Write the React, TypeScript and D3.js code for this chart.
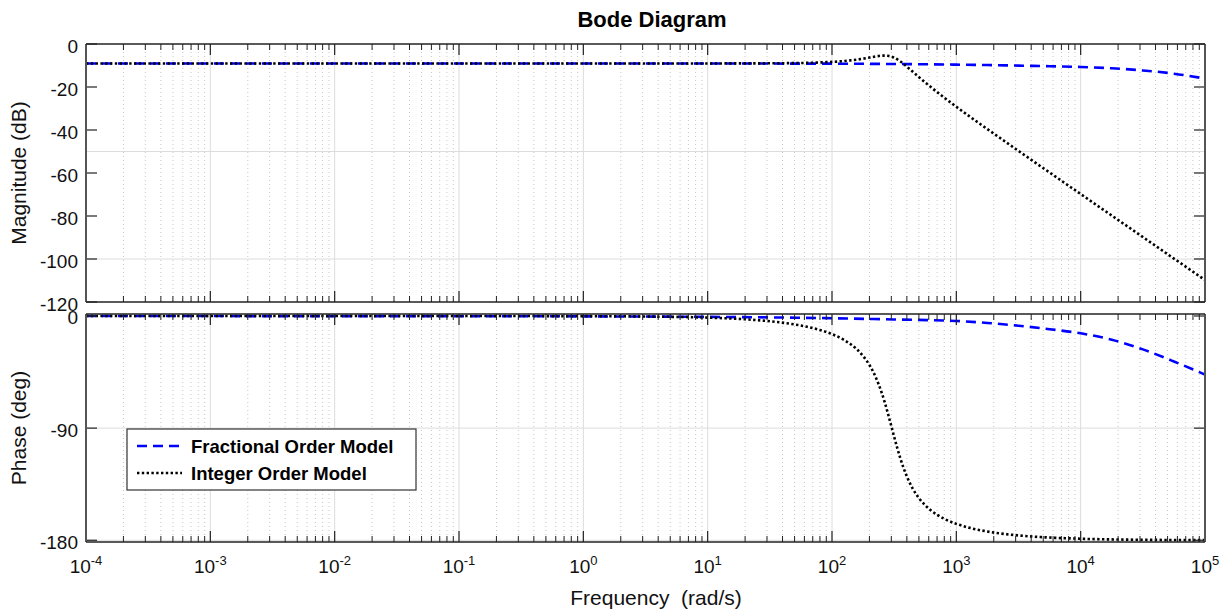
import React from "react";
import * as d3 from "d3";

// ---------- data ----------
const intFreq = [1e-4, 1e-3, 1e-2, 0.1, 1, 3.16, 10, 20, 31.6, 50.1, 63.1, 79.4, 100, 125.9, 141.3, 158.5, 177.8, 199.5, 223.9, 251.2, 266.1, 281.8, 298.5, 316.2, 354.8, 398.1, 446.7, 501.2, 562.3, 631, 794.3, 1000, 1259, 1585, 3162, 5012, 10000, 31623, 100000];
const intMag = [-9.05, -9.05, -9.05, -9.05, -9.05, -9.05, -9.04, -9.02, -8.98, -8.87, -8.77, -8.6, -8.33, -7.91, -7.62, -7.26, -6.82, -6.32, -5.8, -5.43, -5.39, -5.5, -5.83, -6.39, -8.14, -10.43, -12.93, -15.44, -17.9, -20.28, -24.83, -29.19, -33.42, -37.55, -49.73, -57.77, -69.79, -89.79, -109.79];
const intPhase = [0, 0, 0, -0.01, -0.13, -0.42, -1.32, -2.65, -4.23, -6.79, -8.67, -11.15, -14.54, -19.37, -22.64, -26.76, -32.08, -39.16, -48.75, -61.7, -69.6, -78.31, -87.6, -96.98, -114.38, -128.31, -138.67, -146.3, -152.01, -156.4, -162.65, -166.86, -169.86, -172.09, -176.13, -177.57, -178.78, -179.62, -179.88];

const fracFreq = [1e-4, 1e-3, 1e-2, 0.1, 1, 10, 100, 316, 1000, 1778, 3162, 5623, 10000, 17783, 31623, 56234, 100000];
const fracMag = [-9.05, -9.05, -9.05, -9.05, -9.06, -9.08, -9.15, -9.3, -9.6, -9.8, -10.05, -10.35, -10.7, -11.3, -12.3, -13.8, -16.1];
const fracPhase = [-0.05, -0.06, -0.1, -0.15, -0.3, -0.7, -1.8, -2.8, -4.0, -5.6, -7.8, -10.6, -13.9, -19.0, -26.8, -36.5, -47.0];

const decadeExps = [-4, -3, -2, -1, 0, 1, 2, 3, 4, 5];
const magTicks = [0, -20, -40, -60, -80, -100, -120];
const magGrid = [-50, -100];
const phaseTicks = [0, -90, -180];
const phaseGrid = [-90, -180];
const legendLabels = ["Fractional Order Model", "Integer Order Model"];

const W = 1224;
const H = 613;
const L = 86;
const R = 1205;
const magTop = 44;
const magBot = 302;
const phTop = 314;
const phBot = 542;
const FONT = "Liberation Sans, Arial, Helvetica, sans-serif";

export default function App() {
  const x = d3.scaleLog().domain([1e-4, 1e5]).range([L, R]);
  const yMag = d3.scaleLinear().domain([-120, 0]).range([magBot, magTop]);
  const yPh = d3.scaleLinear().domain([-181.4, 1.6]).range([phBot, phTop]);

  const minor: number[] = [];
  for (let e = -4; e < 5; e++) for (let k = 2; k <= 9; k++) minor.push(k * Math.pow(10, e));
  const majors = decadeExps.map((e) => Math.pow(10, e));

  const mkLine = (ys: d3.ScaleLinear<number, number>) =>
    d3
      .line<[number, number]>()
      .x((d) => x(d[0]))
      .y((d) => ys(d[1]))
      .curve(d3.curveMonotoneX);

  const zip = (a: number[], b: number[]) => a.map((v, i) => [v, b[i]] as [number, number]);

  const panel = (
    top: number,
    bot: number,
    ys: d3.ScaleLinear<number, number>,
    ticks: number[],
    grid: number[],
    clipId: string,
    fracVals: number[],
    intVals: number[]
  ) => (
    <g>
      <clipPath id={clipId}>
        <rect x={L} y={top} width={R - L} height={bot - top} />
      </clipPath>
      {minor.map((f, i) => (
        <line key={"mg" + i} x1={x(f)} x2={x(f)} y1={top} y2={bot} stroke="#c8c8c8" strokeWidth={1} strokeDasharray="1,3" />
      ))}
      {majors.map((f, i) => (
        <line key={"Mg" + i} x1={x(f)} x2={x(f)} y1={top} y2={bot} stroke="#dcdcdc" strokeWidth={1} />
      ))}
      {grid.map((v, i) => (
        <line key={"hg" + i} x1={L} x2={R} y1={ys(v)} y2={ys(v)} stroke="#dcdcdc" strokeWidth={1} />
      ))}
      <g clipPath={`url(#${clipId})`}>
        <path d={mkLine(ys)(zip(fracFreq, fracVals)) || ""} fill="none" stroke="#0000ff" strokeWidth={2.6} strokeDasharray="10,6" />
        <path d={mkLine(ys)(zip(intFreq, intVals)) || ""} fill="none" stroke="#000" strokeWidth={2.6} strokeDasharray="2.4,2.4" />
      </g>
      {minor.map((f, i) => (
        <g key={"mt" + i}>
          <line x1={x(f)} x2={x(f)} y1={bot} y2={bot - 6} stroke="#222" strokeWidth={1} />
          <line x1={x(f)} x2={x(f)} y1={top} y2={top + 6} stroke="#222" strokeWidth={1} />
        </g>
      ))}
      {majors.map((f, i) => (
        <g key={"Mt" + i}>
          <line x1={x(f)} x2={x(f)} y1={bot} y2={bot - 11} stroke="#222" strokeWidth={1.2} />
          <line x1={x(f)} x2={x(f)} y1={top} y2={top + 11} stroke="#222" strokeWidth={1.2} />
        </g>
      ))}
      {ticks.map((v, i) => (
        <g key={"yt" + i}>
          <line x1={L} x2={L + 11} y1={ys(v)} y2={ys(v)} stroke="#222" strokeWidth={1.2} />
          <line x1={R} x2={R - 11} y1={ys(v)} y2={ys(v)} stroke="#222" strokeWidth={1.2} />
          <text x={78} y={ys(v) + 2} textAnchor="end" dominantBaseline="central" fontSize={19} fontFamily={FONT} fill="#111">
            {v}
          </text>
        </g>
      ))}
      <line x1={L} x2={L} y1={top} y2={bot} stroke="#555" strokeWidth={2} />
      <line x1={R} x2={R} y1={top} y2={bot} stroke="#555" strokeWidth={2} />
      <line x1={L} x2={R} y1={top} y2={top} stroke="#222" strokeWidth={1.3} />
      <line x1={L} x2={R} y1={bot} y2={bot} stroke="#222" strokeWidth={1.3} />
    </g>
  );

  const legX = 127;
  const legY = 429;

  return (
    <svg width={W} height={H} style={{ position: "absolute", left: 0, top: 0, background: "#fff" }}>
      <rect x={0} y={0} width={W} height={H} fill="#fff" />
      <text x={652} y={27} textAnchor="middle" fontSize={22} fontWeight="bold" fontFamily={FONT} fill="#000">
        Bode Diagram
      </text>
      {panel(magTop, magBot, yMag, magTicks, magGrid, "clipMag", fracMag, intMag)}
      {panel(phTop, phBot, yPh, phaseTicks, phaseGrid, "clipPh", fracPhase, intPhase)}
      {decadeExps.map((e, i) => (
        <text key={"xl" + i} x={x(Math.pow(10, e))} y={573} textAnchor="middle" fontSize={19} fontFamily={FONT} fill="#111">
          <tspan>10</tspan>
          <tspan dy={-8} fontSize={13}>
            {String(e)}
          </tspan>
        </text>
      ))}
      <text x={656} y={605} textAnchor="middle" fontSize={21} fontFamily={FONT} fill="#111" style={{ whiteSpace: "pre" }}>
        {"Frequency  (rad/s)"}
      </text>
      <text transform={`translate(26,${(magTop + magBot) / 2}) rotate(-90)`} textAnchor="middle" fontSize={21} fontFamily={FONT} fill="#111">
        Magnitude (dB)
      </text>
      <text transform={`translate(26,${(phTop + phBot) / 2}) rotate(-90)`} textAnchor="middle" fontSize={21} fontFamily={FONT} fill="#111">
        Phase (deg)
      </text>
      <rect x={legX} y={legY} width={289} height={61} fill="#fff" stroke="#333" strokeWidth={1.2} />
      <line x1={137} x2={182} y1={446} y2={446} stroke="#0000ff" strokeWidth={2.6} strokeDasharray="10,6" />
      <line x1={137} x2={182} y1={473} y2={473} stroke="#000" strokeWidth={2.6} strokeDasharray="2.4,2.4" />
      <text x={191} y={446} dominantBaseline="central" fontSize={18.5} fontWeight="bold" fontFamily={FONT} fill="#000">
        {legendLabels[0]}
      </text>
      <text x={191} y={473} dominantBaseline="central" fontSize={18.5} fontWeight="bold" fontFamily={FONT} fill="#000">
        {legendLabels[1]}
      </text>
    </svg>
  );
}
